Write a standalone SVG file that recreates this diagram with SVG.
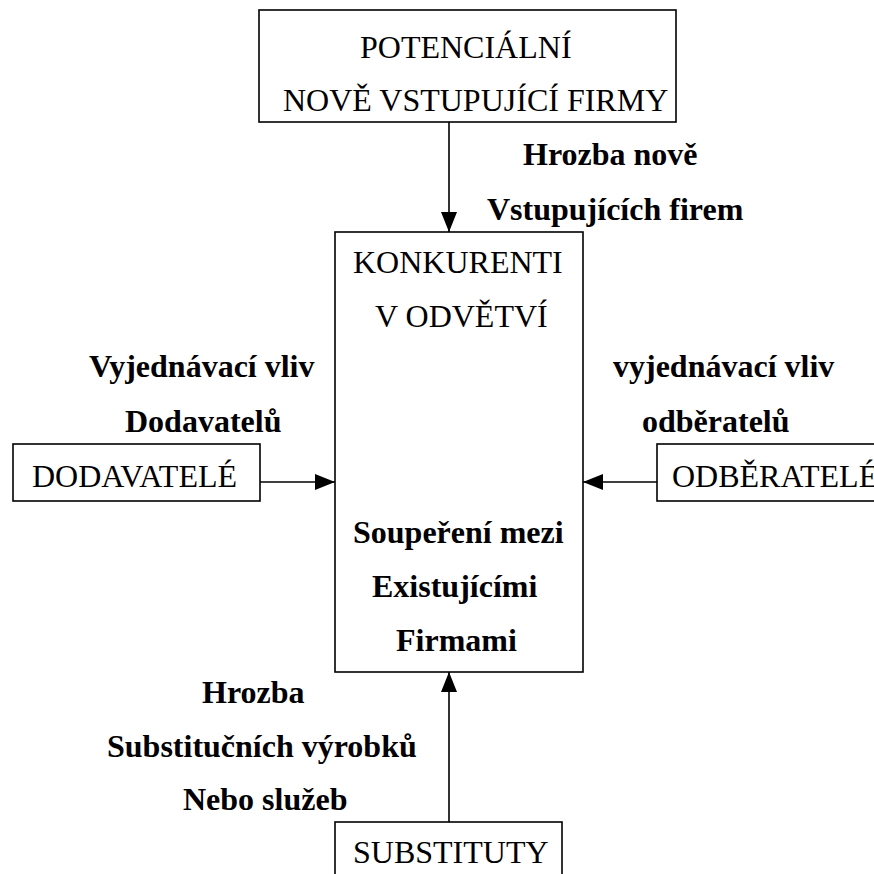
<svg xmlns="http://www.w3.org/2000/svg" width="874" height="874" viewBox="0 0 874 874">
<style>
  .box { fill: #ffffff; stroke: #000000; stroke-width: 1.6; }
  .reg { font-family: "Liberation Serif", "Times New Roman", serif; font-size: 32px; fill: #000000; }
  .bold { font-family: "Liberation Serif", "Times New Roman", serif; font-size: 32px; font-weight: bold; fill: #000000; }
  .conn { stroke: #000000; stroke-width: 1.6; fill: none; marker-end: url(#arrow); }
</style>
<defs>
  <marker id="arrow" markerUnits="userSpaceOnUse" markerWidth="20" markerHeight="16" refX="20" refY="8" orient="auto">
    <path d="M0,0 L20,8 L0,16 Z" fill="#000000"/>
  </marker>
</defs>
<rect x="0" y="0" width="874" height="874" fill="#ffffff"/>

<g id="connectors">
  <line class="conn" x1="449" y1="122" x2="449" y2="232"/>
  <line class="conn" x1="260" y1="482" x2="335" y2="482"/>
  <line class="conn" x1="657" y1="482" x2="583" y2="482"/>
  <line class="conn" x1="449" y1="822" x2="449" y2="672"/>
</g>

<g id="node-potencialni">
  <rect class="box" x="259" y="10" width="417" height="112"/>
  <text class="reg" x="360" y="58">POTENCIÁLNÍ</text>
  <text class="reg" x="283" y="111">NOVĚ VSTUPUJÍCÍ FIRMY</text>
</g>

<g id="node-konkurenti">
  <rect class="box" x="335" y="232" width="248" height="440"/>
  <text class="reg" x="353" y="273">KONKURENTI</text>
  <text class="reg" x="375" y="327">V ODVĚTVÍ</text>
  <text class="bold" x="353" y="543">Soupeření mezi</text>
  <text class="bold" x="372" y="597">Existujícími</text>
  <text class="bold" x="396" y="651">Firmami</text>
</g>

<g id="node-dodavatele">
  <rect class="box" x="13" y="444" width="247" height="57"/>
  <text class="reg" x="32" y="487">DODAVATELÉ</text>
</g>

<g id="node-odberatele">
  <rect class="box" x="657" y="444" width="240" height="57"/>
  <text class="reg" x="672" y="487">ODBĚRATELÉ</text>
</g>

<g id="node-substituty">
  <rect class="box" x="335" y="822" width="227" height="70"/>
  <text class="reg" x="353" y="863">SUBSTITUTY</text>
</g>

<g id="labels">
  <text class="bold" x="523" y="165">Hrozba nově</text>
  <text class="bold" x="487" y="220">Vstupujících firem</text>
  <text class="bold" x="89" y="377">Vyjednávací vliv</text>
  <text class="bold" x="125" y="432">Dodavatelů</text>
  <text class="bold" x="613" y="377">vyjednávací vliv</text>
  <text class="bold" x="642" y="432">odběratelů</text>
  <text class="bold" x="202" y="703">Hrozba</text>
  <text class="bold" x="107" y="757">Substitučních výrobků</text>
  <text class="bold" x="183" y="810">Nebo služeb</text>
</g>
</svg>
